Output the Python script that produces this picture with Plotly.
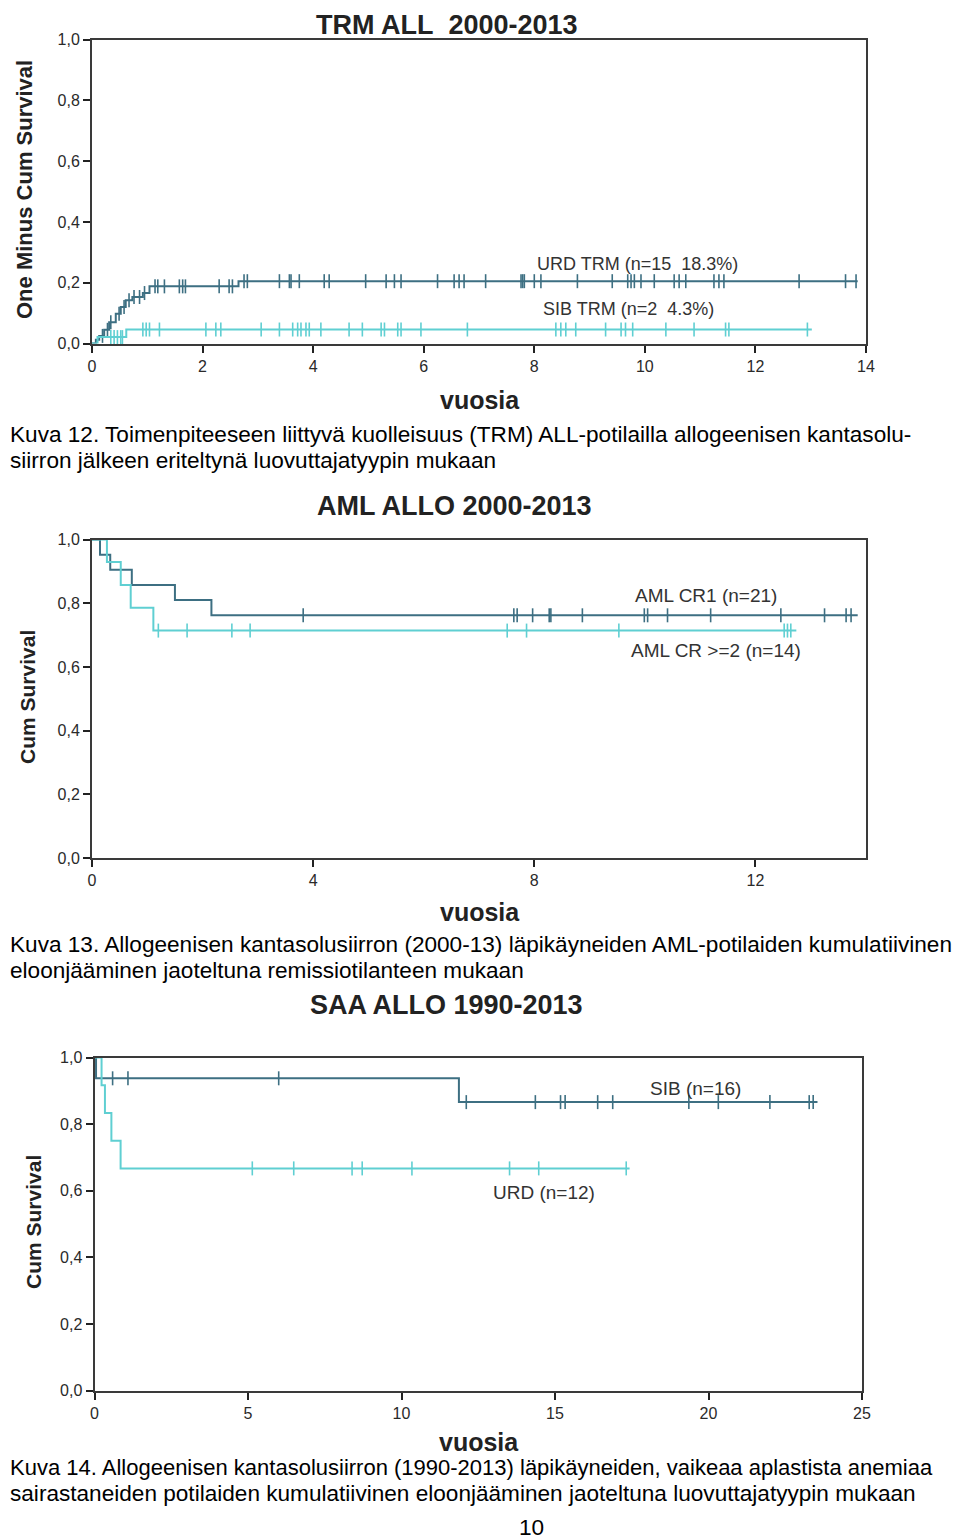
import plotly.graph_objects as go

W, H = 960, 1538
OFF = 8  # the page puts the figure 8 px in from the top-left corner; positions below are page pixels

DARK = "#3d6f82"
LIGHT = "#5fcfd2"

# ---------------- Chart 1: TRM ALL 2000-2013 (One Minus Cum Survival) ----------------
trm_urd_t = [0, 0.07, 0.13, 0.22, 0.31, 0.43, 0.52, 0.61, 0.73, 0.92, 1.04, 2.65]
trm_urd_v = [0, 0.012, 0.025, 0.045, 0.07, 0.098, 0.12, 0.142, 0.153, 0.166, 0.188, 0.205]
trm_urd_end = 13.85
trm_urd_cens = [0.19, 0.28, 0.34, 0.49, 0.58, 0.67, 0.76, 0.86, 0.95,
                1.14, 1.19, 1.31, 1.58, 1.64, 1.69, 2.30, 2.48, 2.54,
                2.75, 2.81, 3.39, 3.57, 3.60, 3.75, 4.20, 4.29, 4.95, 5.32,
                5.47, 5.59, 6.25, 6.55, 6.64, 6.73, 7.12, 7.76, 7.79, 7.82,
                8.00, 8.12, 8.78, 9.41, 9.69, 9.75, 9.81, 9.93, 10.17, 10.53,
                10.62, 10.74, 11.25, 11.34, 11.43, 12.79, 13.63, 13.82]

trm_sib_t = [0, 0.10, 0.62]
trm_sib_v = [0, 0.021, 0.046]
trm_sib_end = 13.02
trm_sib_cens = [0.34, 0.40, 0.46, 0.52, 0.55,
                0.92, 0.98, 1.04, 1.22, 2.06, 2.24, 2.33, 3.06, 3.39, 3.63, 3.72,
                3.78, 3.87, 3.93, 4.14, 4.65, 4.89, 5.23, 5.29, 5.53, 5.59, 5.95,
                6.79, 8.39, 8.48, 8.57, 8.75, 9.29, 9.57, 9.65, 9.78, 10.38, 10.89,
                11.46, 11.52, 12.94]

# ---------------- Chart 2: AML ALLO 2000-2013 ----------------
aml_cr1_t = [0, 0.145, 0.33, 0.72, 1.50, 2.16]
aml_cr1_v = [1.0, 0.952, 0.905, 0.857, 0.810, 0.762]
aml_cr1_end = 13.85
aml_cr1_cens = [3.82, 7.63, 7.69, 7.97, 8.27, 8.30, 8.87, 9.99, 10.05, 10.41,
                11.19, 12.46, 13.25, 13.64, 13.73]

aml_cr2_t = [0, 0.27, 0.52, 0.70, 1.11]
aml_cr2_v = [1.0, 0.929, 0.857, 0.786, 0.714]
aml_cr2_end = 12.74
aml_cr2_cens = [1.20, 1.72, 2.53, 2.86, 7.51, 7.86, 9.53, 12.52, 12.58, 12.64]

# ---------------- Chart 3: SAA ALLO 1990-2013 ----------------
saa_sib_t = [0, 0.05, 11.87]
saa_sib_v = [1.0, 0.9375, 0.866]
saa_sib_end = 23.55
saa_sib_cens = [0.59, 1.09, 6.00, 12.11, 14.36, 15.18, 15.33, 16.39, 16.88,
                19.36, 20.32, 22.00, 23.28, 23.41]

saa_urd_t = [0, 0.23, 0.34, 0.55, 0.85]
saa_urd_v = [1.0, 0.917, 0.833, 0.75, 0.667]
saa_urd_end = 17.43
saa_urd_cens = [5.14, 6.49, 8.39, 8.72, 10.34, 13.52, 14.47, 17.32]

x1_ticks = [0, 2, 4, 6, 8, 10, 12, 14]
x2_ticks = [0, 4, 8, 12]
x3_ticks = [0, 5, 10, 15, 20, 25]
y_ticks = [0.0, 0.2, 0.4, 0.6, 0.8, 1.0]


def step_xy(t, v, end):
    return list(t) + [end], list(v) + [v[-1]]


def value_at(t, v, c):
    val = v[0]
    for ti, vi in zip(t, v):
        if ti <= c:
            val = vi
    return val


fig = go.Figure()


def add_curve(t, v, end, cens, color, xa, ya):
    xs, ys = step_xy(t, v, end)
    fig.add_trace(go.Scatter(x=xs, y=ys, mode="lines", line=dict(color=color, width=2, shape="hv"),
                             xaxis=xa, yaxis=ya, showlegend=False, hoverinfo="skip", cliponaxis=False))
    fig.add_trace(go.Scatter(x=cens, y=[value_at(t, v, c) for c in cens], mode="markers",
                             marker=dict(symbol="line-ns", size=10, line=dict(color=color, width=1.6)),
                             xaxis=xa, yaxis=ya, showlegend=False, hoverinfo="skip", cliponaxis=False))


add_curve(trm_urd_t, trm_urd_v, trm_urd_end, trm_urd_cens, DARK, "x", "y")
add_curve(trm_sib_t, trm_sib_v, trm_sib_end, trm_sib_cens, LIGHT, "x", "y")
add_curve(aml_cr1_t, aml_cr1_v, aml_cr1_end, aml_cr1_cens, DARK, "x2", "y2")
add_curve(aml_cr2_t, aml_cr2_v, aml_cr2_end, aml_cr2_cens, LIGHT, "x2", "y2")
add_curve(saa_sib_t, saa_sib_v, saa_sib_end, saa_sib_cens, DARK, "x3", "y3")
add_curve(saa_urd_t, saa_urd_v, saa_urd_end, saa_urd_cens, LIGHT, "x3", "y3")


def px_dom_x(a, b):
    return [(a - OFF) / W, (b - OFF) / W]


def px_dom_y(top, bottom):
    return [1 - (bottom - OFF) / H, 1 - (top - OFF) / H]


FONT = "Liberation Sans, Arial, sans-serif"
TICKFONT = dict(family=FONT, size=16, color="#2a2a2a")
axis_common = dict(showgrid=False, zeroline=False, showline=True, linecolor="#3a3a3a", linewidth=2,
                   mirror=True, ticks="outside", ticklen=7, tickwidth=1.5, tickcolor="#222222",
                   tickfont=TICKFONT, fixedrange=True, automargin=False)

layout_axes = {
    "xaxis": dict(domain=px_dom_x(92, 866), range=[0, 14], tickvals=x1_ticks, anchor="y", **axis_common),
    "yaxis": dict(domain=px_dom_y(39.5, 343.5), range=[0, 1], tickvals=y_ticks, tickformat=".1f", anchor="x", **axis_common),
    "xaxis2": dict(domain=px_dom_x(92, 866), range=[0, 14], tickvals=x2_ticks, anchor="y2", **axis_common),
    "yaxis2": dict(domain=px_dom_y(539.5, 858), range=[0, 1], tickvals=y_ticks, tickformat=".1f", anchor="x2", **axis_common),
    "xaxis3": dict(domain=px_dom_x(94.5, 862), range=[0, 25], tickvals=x3_ticks, anchor="y3", **axis_common),
    "yaxis3": dict(domain=px_dom_y(1057.5, 1390.5), range=[0, 1], tickvals=y_ticks, tickformat=".1f", anchor="x3", **axis_common),
}

annotations = []


def ann(text, x, y, size, bold=False, color="#222222", xanchor="center", yanchor="middle", textangle=0, family=FONT):
    t = f"<b>{text}</b>" if bold else text
    annotations.append(dict(text=t, x=(x - OFF) / W, y=1 - (y - OFF) / H, xref="paper", yref="paper",
                            showarrow=False, xanchor=xanchor, yanchor=yanchor, textangle=textangle,
                            font=dict(family=family, size=size, color=color)))


NB = "\u00a0"
# Chart titles
ann("TRM ALL" + NB + NB + "2000-2013", 447, OFF, 27, bold=True, yanchor="top")
ann("AML ALLO 2000-2013", 454, 506, 27, bold=True)
ann("SAA ALLO 1990-2013", 446, 1005, 27, bold=True)
# Axis titles
ann("vuosia", 480, 400, 25, bold=True)
ann("vuosia", 480, 912, 25, bold=True)
ann("vuosia", 479, 1442, 25, bold=True)
ann("One Minus Cum Survival", 25, 190, 22, bold=True, textangle=-90)
ann("Cum Survival", 27, 697, 21, bold=True, textangle=-90)
ann("Cum Survival", 33, 1222, 21, bold=True, textangle=-90)
# Curve labels
ann("URD TRM (n=15" + NB + NB + "18.3%)", 637, 264, 18, color="#333333")
ann("SIB TRM (n=2" + NB + NB + "4.3%)", 628, 309, 18, color="#333333")
ann("AML CR1 (n=21)", 706, 595, 19, color="#333333")
ann("AML CR >=2 (n=14)", 716, 651, 19, color="#333333")
ann("SIB (n=16)", 695, 1088, 19, color="#333333")
ann("URD (n=12)", 544, 1192, 19, color="#333333")

CAPSIZE = 22.6
ann("Kuva 12. Toimenpiteeseen liittyvä kuolleisuus (TRM) ALL-potilailla allogeenisen kantasolu-", OFF, 434, CAPSIZE, color="#000000", xanchor="left")
ann("siirron jälkeen eriteltynä luovuttajatyypin mukaan", OFF, 461, CAPSIZE, color="#000000", xanchor="left")
ann("Kuva 13. Allogeenisen kantasolusiirron (2000-13) läpikäyneiden AML-potilaiden kumulatiivinen", OFF, 944, CAPSIZE, color="#000000", xanchor="left")
ann("eloonjääminen jaoteltuna remissiotilanteen mukaan", OFF, 970, CAPSIZE, color="#000000", xanchor="left")
ann("Kuva 14. Allogeenisen kantasolusiirron (1990-2013) läpikäyneiden, vaikeaa aplastista anemiaa", OFF, 1467, 22.0, color="#000000", xanchor="left")
ann("sairastaneiden potilaiden kumulatiivinen eloonjääminen jaoteltuna luovuttajatyypin mukaan", OFF, 1493, CAPSIZE, color="#000000", xanchor="left")
ann("10", 531, 1527, CAPSIZE, color="#000000")

fig.update_layout(
    template="none",
    width=W, height=H, margin=dict(l=0, r=0, t=0, b=0, pad=0, autoexpand=False),
    paper_bgcolor="white", plot_bgcolor="white",
    separators=",.", showlegend=False,
    annotations=annotations,
    **layout_axes,
)

fig.write_html("out.html")
